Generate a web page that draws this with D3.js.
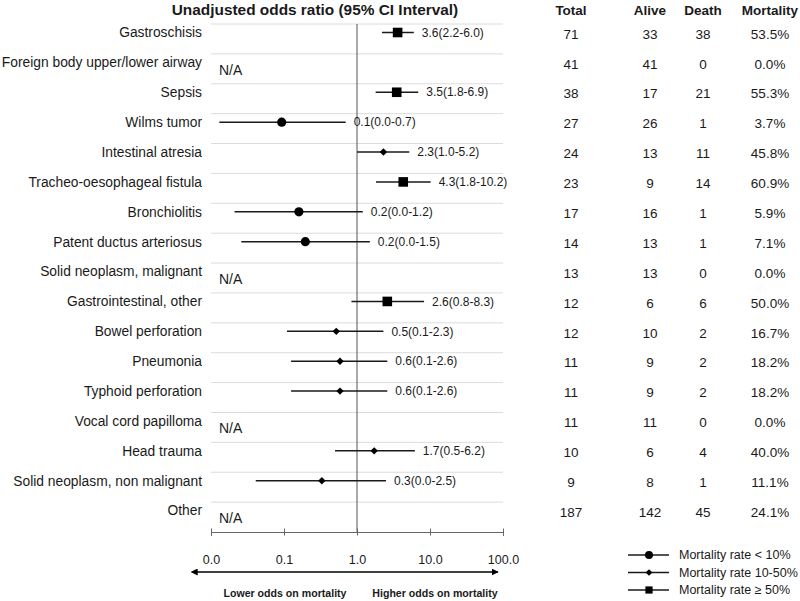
<!DOCTYPE html>
<html>
<head>
<meta charset="utf-8">
<script src="https://cdn.jsdelivr.net/npm/d3@7"></script>
<style>
  body { margin: 0; background: #fff; }
  text { font-family: "Liberation Sans", Arial, sans-serif; fill: #1a1a1a; }
</style>
</head>
<body>
<script>
// Data
const conditions = [
  'Gastroschisis', 'Foreign body upper/lower airway', 'Sepsis', 'Wilms tumor',
  'Intestinal atresia', 'Tracheo-oesophageal fistula', 'Bronchiolitis',
  'Patent ductus arteriosus', 'Solid neoplasm, malignant', 'Gastrointestinal, other',
  'Bowel perforation', 'Pneumonia', 'Typhoid perforation', 'Vocal cord papilloma',
  'Head trauma', 'Solid neoplasm, non malignant', 'Other'
];
const oddsRatio = [3.6, null, 3.5, 0.093, 2.3, 4.3, 0.16, 0.196, null, 2.6, 0.52, 0.585, 0.585, null, 1.72, 0.33, null];
const ciLow = [2.2, null, 1.8, 0.013, 1.0, 1.82, 0.021, 0.026, null, 0.84, 0.11, 0.125, 0.125, null, 0.5, 0.041, null];
const ciHigh = [6.0, null, 6.9, 0.7, 5.2, 10.2, 1.2, 1.5, null, 8.3, 2.3, 2.6, 2.6, null, 6.2, 2.5, null];
const total = [71, 41, 38, 27, 24, 23, 17, 14, 13, 12, 12, 11, 11, 11, 10, 9, 187];
const alive = [33, 41, 17, 26, 13, 9, 16, 13, 13, 6, 10, 9, 9, 11, 6, 8, 142];
const death = [38, 0, 21, 1, 11, 14, 1, 1, 0, 6, 2, 2, 2, 0, 4, 1, 45];
const tickValues = [0.01, 0.1, 1, 10, 100];
const tableHeaders = ['Total', 'Alive', 'Death', 'Mortality'];
const legendLabels = ['Mortality rate < 10%', 'Mortality rate 10-50%', 'Mortality rate \u2265 50%'];

const width = 800, height = 601;
const plot = { left: 211, right: 503, top: 24, bottom: 532 };
const columnX = [571, 650, 703, 770];

const rows = conditions.map((name, i) => {
  const mortality = (death[i] / total[i]) * 100;
  return {
    name, or: oddsRatio[i], lo: ciLow[i], hi: ciHigh[i],
    total: total[i], alive: alive[i], death: death[i], mortality,
    group: mortality < 10 ? 0 : mortality < 50 ? 1 : 2,
  };
});

const svg = d3.select('body').append('svg')
  .attr('width', width)
  .attr('height', height);

const x = d3.scaleLog().domain([0.01, 100]).range([plot.left, plot.right]);
const y = d3.scaleBand().domain(conditions).range([plot.top, plot.bottom]);
const f1 = d3.format('.1f');

// marker shapes per mortality group: circle, diamond (rotated square), square
const symbols = [
  { gen: d3.symbol().type(d3.symbolCircle).size(66), rot: 0 },
  { gen: d3.symbol().type(d3.symbolSquare).size(27), rot: 45 },
  { gen: d3.symbol().type(d3.symbolSquare).size(92), rot: 0 },
];
const legendSymbols = [
  { gen: d3.symbol().type(d3.symbolCircle).size(50), rot: 0 },
  { gen: d3.symbol().type(d3.symbolSquare).size(22), rot: 45 },
  { gen: d3.symbol().type(d3.symbolSquare).size(52), rot: 0 },
];

// Title and table header
svg.append('text')
  .attr('x', 315).attr('y', 15)
  .attr('text-anchor', 'middle')
  .style('font-size', '15.4px').style('font-weight', 'bold')
  .text('Unadjusted odds ratio (95% CI Interval)');

svg.selectAll('.header')
  .data(tableHeaders)
  .enter()
  .append('text')
  .attr('x', (d, i) => columnX[i])
  .attr('y', 15)
  .attr('text-anchor', 'middle')
  .style('font-size', '13.5px').style('font-weight', 'bold')
  .text(d => d);

// Row separator lines
svg.selectAll('.row-line')
  .data(rows)
  .enter()
  .append('line')
  .attr('x1', plot.left).attr('x2', plot.right)
  .attr('y1', d => y(d.name)).attr('y2', d => y(d.name))
  .style('stroke', '#dcdcdc').style('stroke-width', 1);

// Reference line at OR = 1
svg.append('line')
  .attr('x1', x(1)).attr('x2', x(1))
  .attr('y1', plot.top).attr('y2', plot.bottom)
  .style('stroke', '#555').style('stroke-width', 1);

const row = svg.selectAll('.row')
  .data(rows)
  .enter()
  .append('g')
  .attr('class', 'row')
  .attr('transform', d => `translate(0, ${y(d.name)})`);

row.append('text')
  .attr('x', plot.left - 9).attr('y', 8.5).attr('dy', '0.35em')
  .attr('text-anchor', 'end')
  .style('font-size', '13.8px')
  .text(d => d.name);

row.filter(d => d.or === null)
  .append('text')
  .attr('x', plot.left + 8).attr('y', 16).attr('dy', '0.35em')
  .style('font-size', '14px')
  .text('N/A');

const est = row.filter(d => d.or !== null);

est.append('line')
  .attr('x1', d => x(d.lo)).attr('x2', d => x(d.hi))
  .attr('y1', 8.5).attr('y2', 8.5)
  .style('stroke', '#1a1a1a').style('stroke-width', 1.5);

est.append('path')
  .attr('d', d => symbols[d.group].gen())
  .attr('transform', d => `translate(${x(d.or)}, 8.5) rotate(${symbols[d.group].rot})`)
  .style('fill', '#000');

est.append('text')
  .attr('x', d => x(d.hi) + 8).attr('y', 8.5).attr('dy', '0.35em')
  .style('font-size', '12px')
  .text(d => `${f1(d.or)}(${f1(d.lo)}-${f1(d.hi)})`);

// Table values
const cells = d => [d.total, d.alive, d.death, f1(d.mortality) + '%'];
row.selectAll('.cell')
  .data(cells)
  .enter()
  .append('text')
  .attr('x', (d, i) => columnX[i])
  .attr('y', 10).attr('dy', '0.35em')
  .attr('text-anchor', 'middle')
  .style('font-size', '13.5px')
  .text(d => d);

// Axis
const axis = svg.append('g')
  .attr('transform', `translate(0, ${plot.bottom})`)
  .call(d3.axisBottom(x).tickValues(tickValues).tickFormat(f1).tickSizeOuter(0).tickSize(4).tickPadding(19.5));

axis.select('.domain').style('stroke', '#666');
axis.selectAll('.tick line').attr('y1', -3.5).attr('y2', 3.5).style('stroke', '#666');
axis.selectAll('.tick text')
  .style('font-size', '12.5px')
  .style('font-family', '"Liberation Sans", Arial, sans-serif')
  .style('fill', '#1a1a1a');

// Double-headed arrow with captions
const defs = svg.append('defs');
['start', 'end'].forEach(side => {
  defs.append('marker')
    .attr('id', `arrow-${side}`)
    .attr('viewBox', '0 0 10 10')
    .attr('refX', side === 'end' ? 9 : 1).attr('refY', 5)
    .attr('markerWidth', 7).attr('markerHeight', 7)
    .attr('markerUnits', 'userSpaceOnUse')
    .attr('orient', side === 'end' ? 'auto' : 'auto-start-reverse')
    .append('path')
    .attr('d', 'M0,0L10,5L0,10Z')
    .style('fill', '#000');
});

svg.append('line')
  .attr('x1', x(0.01) - 14).attr('x2', x(100) - 5)
  .attr('y1', 572).attr('y2', 572)
  .style('stroke', '#000').style('stroke-width', 1.5)
  .attr('marker-start', 'url(#arrow-start)')
  .attr('marker-end', 'url(#arrow-end)');

svg.selectAll('.arrow-label')
  .data([{ t: 'Lower odds on mortality', v: 0.1, dx: 1 }, { t: 'Higher odds on mortality', v: 10, dx: 5 }])
  .enter()
  .append('text')
  .attr('x', d => x(d.v) + d.dx).attr('y', 593).attr('dy', '0.35em')
  .attr('text-anchor', 'middle')
  .style('font-size', '10.6px').style('font-weight', 'bold')
  .text(d => d.t);

// Legend
const legend = svg.selectAll('.legend')
  .data(legendLabels)
  .enter()
  .append('g')
  .attr('transform', (d, i) => `translate(628, ${555 + i * 17.5})`);

legend.append('line')
  .attr('x1', 0).attr('x2', 41)
  .style('stroke', '#1a1a1a').style('stroke-width', 1.5);

legend.append('path')
  .attr('d', (d, i) => legendSymbols[i].gen())
  .attr('transform', (d, i) => `translate(21, 0) rotate(${legendSymbols[i].rot})`)
  .style('fill', '#000');

legend.append('text')
  .attr('x', 51).attr('dy', '0.35em')
  .style('font-size', '12.5px')
  .text(d => d);
</script>
</body>
</html>
